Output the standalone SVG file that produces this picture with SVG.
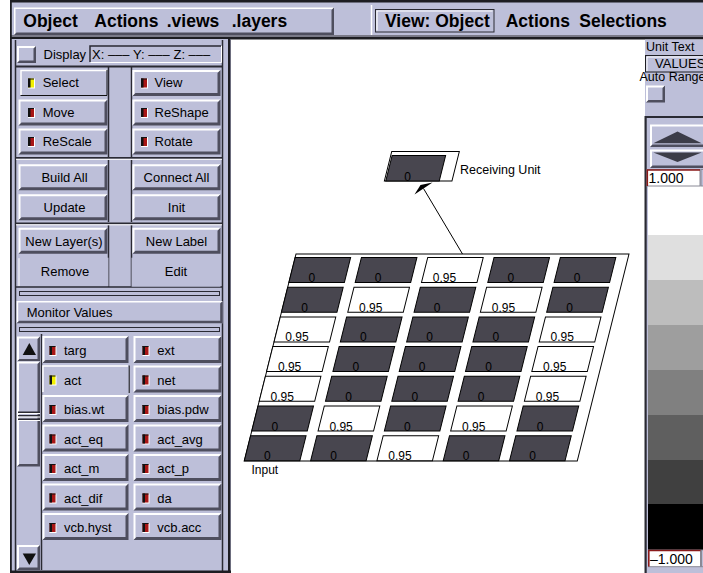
<svg xmlns="http://www.w3.org/2000/svg" width="703" height="573" viewBox="0 0 703 573">
<style>
.face{fill:#bdbfd9}
.hi{fill:#fff}
.sh{fill:#4e4e5e}
.dl{stroke:#2a2a33;stroke-width:1.5;fill:none}
text{font-family:"Liberation Sans",Arial,Helvetica,sans-serif;fill:#000}
.menu{font-size:17.5px;font-weight:bold}
.t13{font-size:13px}
.t14{font-size:14px}
.t12{font-size:12px}
.t125{font-size:12.5px}
.mid{text-anchor:middle}
.dk{fill:#48464f;stroke:#000;stroke-width:1}
.wt{fill:#fff;stroke:#000;stroke-width:1}
.conn{stroke:#000;stroke-width:1;fill:none}
.band{stroke:none}
</style>
<defs>
  <!-- raised push buttons in the control panel -->
  <symbol id="b89" overflow="visible">
    <rect width="89" height="26" class="face"/>
    <path class="hi" d="M0 0H89L87 2H2V24L0 26Z"/>
    <path class="sh" d="M89 0V26H0L3 23H86V3Z"/>
  </symbol>
  <symbol id="b88" overflow="visible">
    <rect width="88" height="26" class="face"/>
    <path class="hi" d="M0 0H88L86 2H2V24L0 26Z"/>
    <path class="sh" d="M88 0V26H0L3 23H85V3Z"/>
  </symbol>
  <symbol id="m86" overflow="visible">
    <rect width="86" height="27" class="face"/>
    <path class="hi" d="M0 0H86L84 2H2V25L0 27Z"/>
    <path class="sh" d="M86 0V27H0L3 24H83V3Z"/>
  </symbol>
  <symbol id="m88" overflow="visible">
    <rect width="88" height="27" class="face"/>
    <path class="hi" d="M0 0H88L86 2H2V25L0 27Z"/>
    <path class="sh" d="M88 0V27H0L3 24H85V3Z"/>
  </symbol>
  <!-- small square toggle box -->
  <symbol id="chk" overflow="visible">
    <rect width="19" height="17" class="face"/>
    <path class="hi" d="M0 0H19L17 2H2V15L0 17Z"/>
    <path class="sh" d="M19 0V17H0L2.5 14.5H16.5V2.5Z"/>
  </symbol>
  <!-- state indicators -->
  <symbol id="indR" overflow="visible">
    <rect width="7" height="10" fill="#fff"/>
    <rect width="6" height="9" fill="#a81616"/>
    <rect width="2.5" height="9" fill="#111"/>
    <rect width="6" height="1" fill="#111"/>
  </symbol>
  <symbol id="indY" overflow="visible">
    <rect width="7" height="10" fill="#fff"/>
    <rect width="6" height="9" fill="#f2f000"/>
    <rect width="2.5" height="9" fill="#111"/>
    <rect width="6" height="1" fill="#111"/>
  </symbol>
</defs>

<rect width="703" height="573" fill="#fff"/>

<!-- ===== menu bar ===== -->
<g id="menubar">
  <rect x="10" y="0" width="693" height="39" class="face"/>
  <rect x="10" y="0" width="693" height="2.5" fill="#1d1d22"/>
  <rect x="14" y="7.5" width="320" height="27.5" class="face"/>
  <path class="hi" d="M14 7.5H334L332.5 9H15.5V33.5L14 35Z"/>
  <path class="sh" d="M334 7.5V35H14L16.5 32.5H331.5V10Z"/>
  <text class="menu" x="23.3" y="27">Object</text>
  <text class="menu" x="94.3" y="27">Actions</text>
  <text class="menu" x="166.7" y="27">.views</text>
  <text class="menu" x="231.7" y="27">.layers</text>
  <line x1="371.5" y1="5" x2="371.5" y2="35" stroke="#fff" stroke-width="1.5"/>
  <rect x="375.5" y="9.5" width="118.5" height="22.5" class="face" stroke="#2a2a33" stroke-width="1"/>
  <path d="M377 30.5V11H492.5" stroke="#fff" stroke-width="1.2" fill="none"/>
  <text class="menu" x="385" y="27">View: Object</text>
  <text class="menu" x="505.7" y="27">Actions</text>
  <text class="menu" x="579.3" y="27">Selections</text>
  <rect x="10" y="35" width="693" height="2" fill="#7a7a88"/>
  <rect x="10" y="37" width="693" height="2.5" fill="#1d1d22"/>
</g>

<!-- ===== left control panel ===== -->
<g id="panel-left">
  <rect x="10" y="39" width="221" height="534" class="face"/>
  <rect x="10" y="0" width="1.8" height="573" fill="#1d1d22"/>
  <line x1="15.5" y1="40" x2="15.5" y2="571" class="dl"/>
  <line x1="222.5" y1="40" x2="222.5" y2="571" class="dl"/>
  <rect x="228" y="39" width="2.5" height="534" fill="#1d1d22"/>
  <rect x="10" y="570.5" width="221" height="2.5" fill="#1d1d22"/>
</g>

<g id="display-row">
  <use href="#chk" x="17" y="46"/>
  <text class="t13" x="43.5" y="58.5">Display</text>
  <rect x="89.5" y="45.5" width="132" height="17" class="face"/>
  <path d="M90 62V46H221" stroke="#2a2a33" stroke-width="1.5" fill="none"/>
  <path d="M90.5 62.5H221.5V46" stroke="#fff" stroke-width="1" fill="none"/>
  <text class="t13" x="92" y="58.5">X: ––– Y: ––– Z: –––</text>
  <rect x="16" y="65.5" width="206" height="2" fill="#2a2a33"/>
</g>

<!-- column divider strip -->
<g id="dividers">
  <line x1="108.5" y1="67" x2="108.5" y2="157" class="dl"/>
  <line x1="131.5" y1="67" x2="131.5" y2="157" class="dl"/>
  <line x1="108.5" y1="160" x2="108.5" y2="222" class="dl"/>
  <line x1="131.5" y1="160" x2="131.5" y2="222" class="dl"/>
  <line x1="108.5" y1="225" x2="108.5" y2="287" class="dl"/>
  <line x1="131.5" y1="225" x2="131.5" y2="287" class="dl"/>
  <rect x="16" y="157" width="206" height="1.8" fill="#2a2a33"/>
  <rect x="16" y="158.8" width="206" height="1" fill="#fff"/>
  <rect x="16" y="222.5" width="206" height="1.8" fill="#2a2a33"/>
  <rect x="16" y="224.3" width="206" height="1" fill="#fff"/>
</g>

<g id="btn-select">
  <rect x="20.5" y="70" width="87" height="26" class="face"/>
  <path d="M21 95.5V70.5H107" stroke="#fff" stroke-width="1.5" fill="none"/>
  <path d="M20.5 95.5H107V70" stroke="#111" stroke-width="1" fill="none"/>
  <use href="#indY" x="28" y="78.5"/>
  <text class="t13" x="42.7" y="87">Select</text>
</g>
<g id="btn-view">
  <use href="#b88" x="132.5" y="70"/>
  <use href="#indR" x="141" y="78.5"/>
  <text class="t13" x="154.5" y="87">View</text>
</g>
<g id="btn-move">
  <use href="#b89" x="18.5" y="99.5"/>
  <use href="#indR" x="28" y="108"/>
  <text class="t13" x="42.7" y="116.5">Move</text>
</g>
<g id="btn-reshape">
  <use href="#b88" x="132.5" y="99.5"/>
  <use href="#indR" x="141" y="108"/>
  <text class="t13" x="154.5" y="116.5">ReShape</text>
</g>
<g id="btn-rescale">
  <use href="#b89" x="18.5" y="128.5"/>
  <use href="#indR" x="28" y="137"/>
  <text class="t13" x="42.7" y="145.5">ReScale</text>
</g>
<g id="btn-rotate">
  <use href="#b88" x="132.5" y="128.5"/>
  <use href="#indR" x="141" y="137"/>
  <text class="t13" x="154.5" y="145.5">Rotate</text>
</g>

<g id="btn-buildall">
  <use href="#b89" x="18.5" y="164.3"/>
  <text class="t13 mid" x="64.5" y="182.3">Build All</text>
</g>
<g id="btn-connectall">
  <use href="#b88" x="132.5" y="164.3"/>
  <text class="t13 mid" x="176.5" y="182.3">Connect All</text>
</g>
<g id="btn-update">
  <use href="#b89" x="18.5" y="194.3"/>
  <text class="t13 mid" x="64.5" y="212.3">Update</text>
</g>
<g id="btn-init">
  <use href="#b88" x="132.5" y="194.3"/>
  <text class="t13 mid" x="176.5" y="212.3">Init</text>
</g>
<g id="btn-newlayers">
  <use href="#b89" x="18.5" y="227.7"/>
  <text class="t13 mid" x="64" y="245.7">New Layer(s)</text>
</g>
<g id="btn-newlabel">
  <use href="#b88" x="132.5" y="227.7"/>
  <text class="t13 mid" x="176.5" y="245.7">New Label</text>
</g>
<g id="btn-remove">
  <rect x="18.5" y="257.7" width="90" height="29" class="face"/>
  <path d="M19 286V258.2" stroke="#fff" stroke-width="1" fill="none"/>
  <line x1="16" y1="287" x2="222" y2="287" class="dl"/>
  <text class="t13 mid" x="65" y="275.7">Remove</text>
</g>
<g id="btn-edit">
  <rect x="131.5" y="257.7" width="89" height="29" class="face"/>
  <text class="t13 mid" x="176" y="275.7">Edit</text>
</g>

<g id="strip-a">
  <rect x="19.5" y="291.5" width="200" height="4" class="face" stroke="#2a2a33" stroke-width="1"/>
</g>
<g id="btn-monitor">
  <rect x="16.7" y="301" width="206" height="22.3" class="face"/>
  <path class="hi" d="M16.7 301H222.7L221.2 302.5H18.2V321.8L16.7 323.3Z"/>
  <path class="sh" d="M222.7 301V323.3H16.7L19.2 320.8H220.2V303.5Z"/>
  <text class="t13" x="26.7" y="316.7">Monitor Values</text>
</g>
<g id="strip-b">
  <rect x="19.5" y="327.5" width="200" height="4" class="face" stroke="#2a2a33" stroke-width="1"/>
</g>

<!-- scroll bar of the monitor list -->
<g id="scrollbar">
  <rect x="17" y="336.5" width="23" height="25" class="face"/>
  <path class="hi" d="M17 336.5H40L38 338.5H19V359.5L17 361.5Z"/>
  <path class="sh" d="M40 336.5V361.5H17L19.5 359H37.5V339Z"/>
  <path d="M22.7 355H36L29.3 343Z" fill="#111"/>
  <rect x="17" y="361.5" width="23" height="105" class="face"/>
  <path class="hi" d="M17 361.5H40L38 363.5H19V464.5L17 466.5Z"/>
  <path class="sh" d="M40 361.5V466.5H17L19.5 464H37.5V364Z"/>
  <rect x="18" y="411.5" width="22" height="1.5" fill="#2a2a33"/>
  <rect x="18" y="413" width="22" height="1" fill="#fff"/>
  <rect x="18" y="415" width="22" height="1.5" fill="#2a2a33"/>
  <rect x="18" y="416.5" width="22" height="1" fill="#fff"/>
  <rect x="18" y="418.5" width="22" height="1.5" fill="#2a2a33"/>
  <rect x="18" y="420" width="22" height="1" fill="#fff"/>
  <rect x="17" y="545" width="23" height="25" class="face"/>
  <path class="hi" d="M17 545H40L38 547H19V568L17 570Z"/>
  <path class="sh" d="M40 545V570H17L19.5 567.5H37.5V547.5Z"/>
  <path d="M22.7 553.5H36L29.3 565Z" fill="#111"/>
  <line x1="41.5" y1="334" x2="41.5" y2="570" class="dl"/>
</g>

<!-- monitor value toggles -->
<g id="mon-targ"><use href="#m86" x="42.5" y="336"/><use href="#indR" x="49.5" y="346"/><text class="t13" x="64" y="355">targ</text></g>
<g id="mon-ext"><use href="#m88" x="133.5" y="336"/><use href="#indR" x="142.5" y="346"/><text class="t13" x="157.3" y="355">ext</text></g>
<g id="mon-act">
  <rect x="42.5" y="365.5" width="86" height="27" class="face"/>
  <path d="M43 392V366H128" stroke="#fff" stroke-width="1.5" fill="none"/>
  <path d="M129.2 365.5V393" stroke="#111" stroke-width="1" fill="none"/>
  <use href="#indY" x="49.5" y="375.5"/><text class="t13" x="64" y="384.5">act</text>
</g>
<g id="mon-net"><use href="#m88" x="133.5" y="365.5"/><use href="#indR" x="142.5" y="375.5"/><text class="t13" x="157.3" y="384.5">net</text></g>
<g id="mon-biaswt"><use href="#m86" x="42.5" y="395"/><use href="#indR" x="49.5" y="405"/><text class="t13" x="64" y="414">bias.wt</text></g>
<g id="mon-biaspdw"><use href="#m88" x="133.5" y="395"/><use href="#indR" x="142.5" y="405"/><text class="t13" x="157.3" y="414">bias.pdw</text></g>
<g id="mon-acteq"><use href="#m86" x="42.5" y="424.5"/><use href="#indR" x="49.5" y="434.5"/><text class="t13" x="64" y="443.5">act_eq</text></g>
<g id="mon-actavg"><use href="#m88" x="133.5" y="424.5"/><use href="#indR" x="142.5" y="434.5"/><text class="t13" x="157.3" y="443.5">act_avg</text></g>
<g id="mon-actm"><use href="#m86" x="42.5" y="454"/><use href="#indR" x="49.5" y="464"/><text class="t13" x="64" y="473">act_m</text></g>
<g id="mon-actp"><use href="#m88" x="133.5" y="454"/><use href="#indR" x="142.5" y="464"/><text class="t13" x="157.3" y="473">act_p</text></g>
<g id="mon-actdif"><use href="#m86" x="42.5" y="483.5"/><use href="#indR" x="49.5" y="493.5"/><text class="t13" x="64" y="502.5">act_dif</text></g>
<g id="mon-da"><use href="#m88" x="133.5" y="483.5"/><use href="#indR" x="142.5" y="493.5"/><text class="t13" x="157.3" y="502.5">da</text></g>
<g id="mon-vcbhyst"><use href="#m86" x="42.5" y="513"/><use href="#indR" x="49.5" y="523"/><text class="t13" x="64" y="532">vcb.hyst</text></g>
<g id="mon-vcbacc"><use href="#m88" x="133.5" y="513"/><use href="#indR" x="142.5" y="523"/><text class="t13" x="157.3" y="532">vcb.acc</text></g>

<!-- ===== right colour-scale panel ===== -->
<g id="panel-right">
  <rect x="645" y="39.5" width="58" height="533.5" class="face"/>
  <rect x="644.5" y="116" width="2.2" height="457" fill="#2a2a33"/>
  <rect x="645" y="116" width="58" height="2" fill="#2a2a33"/>
  <text class="t125" x="646" y="51">Unit Text</text>
  <rect x="645.5" y="55.5" width="62" height="16.5" class="face" stroke="#1d1d22" stroke-width="1"/>
  <path d="M647 71V57H705" stroke="#fff" stroke-width="1" fill="none"/>
  <text class="t13" x="655" y="68">VALUES</text>
  <text class="t125" x="639.5" y="80.5">Auto Range</text>
  <use href="#chk" x="646" y="85.5"/>
  <rect x="650" y="124.5" width="56" height="22.5" class="face"/>
  <path class="hi" d="M650 124.5H706V126.5H652V145L650 147Z"/>
  <path class="sh" d="M650 147H706V144.5H652.5Z"/>
  <path d="M653.3 143.3H701.7L677.5 131.5Z" fill="#3c3c48"/>
  <rect x="650" y="149.5" width="56" height="18.5" class="face"/>
  <path class="hi" d="M650 149.5H706V151.5H652V166L650 168Z"/>
  <path class="sh" d="M650 168H706V165.5H652.5Z"/>
  <path d="M653.3 152.5H701.7L677.5 162Z" fill="#3c3c48"/>
</g>

<g id="scale">
  <rect class="band" x="648" y="186" width="55" height="49" fill="#ffffff"/>
  <rect class="band" x="648" y="235" width="55" height="45" fill="#dfdfdf"/>
  <rect class="band" x="648" y="280" width="55" height="45" fill="#bdbdbd"/>
  <rect class="band" x="648" y="325" width="55" height="45" fill="#9e9e9e"/>
  <rect class="band" x="648" y="370" width="55" height="45" fill="#808080"/>
  <rect class="band" x="648" y="415" width="55" height="45" fill="#5f5f5f"/>
  <rect class="band" x="648" y="460" width="55" height="44" fill="#404040"/>
  <rect class="band" x="648" y="504" width="55" height="46" fill="#000000"/>
  <g id="scale-max">
    <rect x="647" y="169.5" width="53" height="16.5" fill="#fff" stroke="#8a8a96" stroke-width="1"/>
    <path d="M647.3 186V170H700" stroke="#8a1a1a" stroke-width="1.6" fill="none"/>
    <rect x="701" y="169.5" width="6" height="16.5" class="face" stroke="#8a8a96" stroke-width="1"/>
    <text class="t14" x="648.5" y="182.5">1.000</text>
  </g>
  <g id="scale-min">
    <rect x="648.5" y="550" width="52" height="16.7" fill="#fff" stroke="#8a8a96" stroke-width="1"/>
    <path d="M648.8 566.5V550.5H700.5" stroke="#8a1a1a" stroke-width="1.6" fill="none"/>
    <rect x="701.5" y="550" width="6" height="16.7" class="face" stroke="#8a8a96" stroke-width="1"/>
    <text class="t14" x="650" y="563.5">–1.000</text>
  </g>
</g>

<!-- ===== network view ===== -->
<g id="layer-input">
  <g transform="matrix(1 0 -0.25 1 0 0)">
    <rect x="359.5" y="254" width="333" height="207" class="wt"/>
    <!-- row 1 -->
    <rect x="359.5" y="257.5" width="55.5" height="25" class="dk"/>
    <rect x="425.8" y="257.5" width="55.5" height="25" class="dk"/>
    <rect x="492.1" y="257.5" width="55.5" height="25" class="wt"/>
    <rect x="558.4" y="257.5" width="55.5" height="25" class="dk"/>
    <rect x="624.7" y="257.5" width="55.5" height="25" class="dk"/>
    <!-- row 2 -->
    <rect x="359.5" y="287.2" width="55.5" height="25" class="dk"/>
    <rect x="425.8" y="287.2" width="55.5" height="25" class="wt"/>
    <rect x="492.1" y="287.2" width="55.5" height="25" class="dk"/>
    <rect x="558.4" y="287.2" width="55.5" height="25" class="wt"/>
    <rect x="624.7" y="287.2" width="55.5" height="25" class="dk"/>
    <!-- row 3 -->
    <rect x="359.5" y="316.9" width="55.5" height="25" class="wt"/>
    <rect x="425.8" y="316.9" width="55.5" height="25" class="dk"/>
    <rect x="492.1" y="316.9" width="55.5" height="25" class="dk"/>
    <rect x="558.4" y="316.9" width="55.5" height="25" class="dk"/>
    <rect x="624.7" y="316.9" width="55.5" height="25" class="wt"/>
    <!-- row 4 -->
    <rect x="359.5" y="346.6" width="55.5" height="25" class="wt"/>
    <rect x="425.8" y="346.6" width="55.5" height="25" class="dk"/>
    <rect x="492.1" y="346.6" width="55.5" height="25" class="dk"/>
    <rect x="558.4" y="346.6" width="55.5" height="25" class="dk"/>
    <rect x="624.7" y="346.6" width="55.5" height="25" class="wt"/>
    <!-- row 5 -->
    <rect x="359.5" y="376.3" width="55.5" height="25" class="wt"/>
    <rect x="425.8" y="376.3" width="55.5" height="25" class="dk"/>
    <rect x="492.1" y="376.3" width="55.5" height="25" class="dk"/>
    <rect x="558.4" y="376.3" width="55.5" height="25" class="dk"/>
    <rect x="624.7" y="376.3" width="55.5" height="25" class="wt"/>
    <!-- row 6 -->
    <rect x="359.5" y="406" width="55.5" height="25" class="dk"/>
    <rect x="425.8" y="406" width="55.5" height="25" class="wt"/>
    <rect x="492.1" y="406" width="55.5" height="25" class="dk"/>
    <rect x="558.4" y="406" width="55.5" height="25" class="wt"/>
    <rect x="624.7" y="406" width="55.5" height="25" class="dk"/>
    <!-- row 7 -->
    <rect x="359.5" y="435.7" width="55.5" height="25" class="dk"/>
    <rect x="425.8" y="435.7" width="55.5" height="25" class="dk"/>
    <rect x="492.1" y="435.7" width="55.5" height="25" class="wt"/>
    <rect x="558.4" y="435.7" width="55.5" height="25" class="dk"/>
    <rect x="624.7" y="435.7" width="55.5" height="25" class="dk"/>
  </g>
  <g>
    <text class="t12 mid" x="311.9" y="282">0</text>
    <text class="t12 mid" x="378.2" y="282">0</text>
    <text class="t12 mid" x="444.5" y="282">0.95</text>
    <text class="t12 mid" x="510.8" y="282">0</text>
    <text class="t12 mid" x="577.1" y="282">0</text>

    <text class="t12 mid" x="304.5" y="311.7">0</text>
    <text class="t12 mid" x="370.8" y="311.7">0.95</text>
    <text class="t12 mid" x="437.1" y="311.7">0</text>
    <text class="t12 mid" x="503.4" y="311.7">0.95</text>
    <text class="t12 mid" x="569.7" y="311.7">0</text>

    <text class="t12 mid" x="297" y="341.4">0.95</text>
    <text class="t12 mid" x="363.3" y="341.4">0</text>
    <text class="t12 mid" x="429.6" y="341.4">0</text>
    <text class="t12 mid" x="495.9" y="341.4">0</text>
    <text class="t12 mid" x="562.2" y="341.4">0.95</text>

    <text class="t12 mid" x="289.6" y="371.1">0.95</text>
    <text class="t12 mid" x="355.9" y="371.1">0</text>
    <text class="t12 mid" x="422.2" y="371.1">0</text>
    <text class="t12 mid" x="488.5" y="371.1">0</text>
    <text class="t12 mid" x="554.8" y="371.1">0.95</text>

    <text class="t12 mid" x="282.2" y="400.8">0.95</text>
    <text class="t12 mid" x="348.5" y="400.8">0</text>
    <text class="t12 mid" x="414.8" y="400.8">0</text>
    <text class="t12 mid" x="481.1" y="400.8">0</text>
    <text class="t12 mid" x="547.4" y="400.8">0.95</text>

    <text class="t12 mid" x="274.8" y="430.5">0</text>
    <text class="t12 mid" x="341.1" y="430.5">0.95</text>
    <text class="t12 mid" x="407.4" y="430.5">0</text>
    <text class="t12 mid" x="473.7" y="430.5">0.95</text>
    <text class="t12 mid" x="540" y="430.5">0</text>

    <text class="t12 mid" x="267.3" y="460.2">0</text>
    <text class="t12 mid" x="333.6" y="460.2">0</text>
    <text class="t12 mid" x="399.9" y="460.2">0.95</text>
    <text class="t12 mid" x="466.2" y="460.2">0</text>
    <text class="t12 mid" x="532.5" y="460.2">0</text>
  </g>
  <text class="t12" x="251.5" y="474">Input</text>
</g>

<g id="unit-receiving">
  <g transform="matrix(1 0 -0.25 1 0 0)">
    <rect x="429.6" y="151.5" width="67.6" height="29.5" class="wt"/>
    <rect x="431" y="155.5" width="53.5" height="25.5" class="dk"/>
  </g>
  <text class="t12 mid" x="407.5" y="180.5">0</text>
  <text class="t125" x="460" y="174">Receiving Unit</text>
</g>

<g id="connectors">
  <line class="conn" x1="462.5" y1="254" x2="423.5" y2="188.5"/>
  <polygon points="414.5,194.5 420.5,185 432.5,182.5" fill="#000"/>
</g>
</svg>
